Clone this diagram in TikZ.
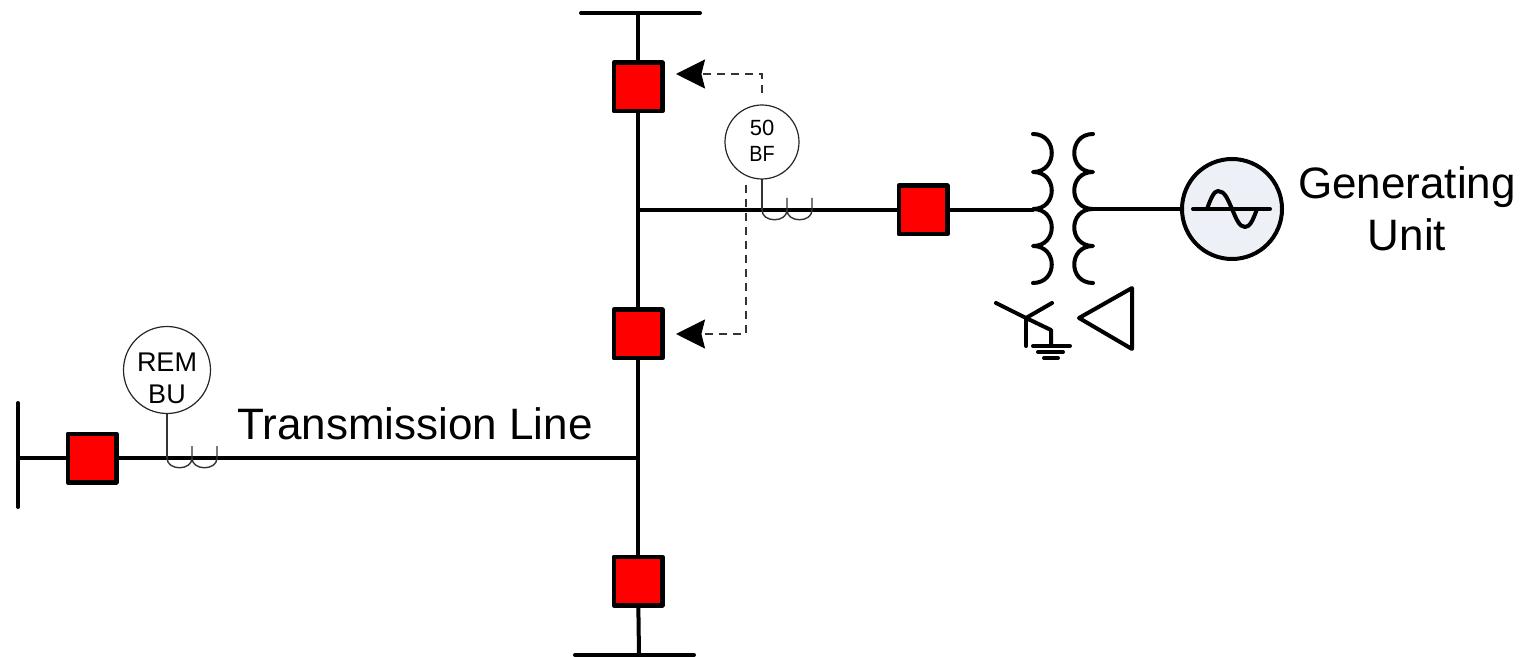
\documentclass[tikz,border=0pt]{standalone}
\usepackage{fontspec}
\setmainfont{Liberation Sans}
\usetikzlibrary{arrows.meta}
\tikzset{
  wire/.style={line width=2pt,line cap=round,line join=round,black},
  breaker/.style={draw=black,fill=red,line width=2.3pt,line join=round,minimum size=24.2pt,inner sep=0pt,outer sep=0pt},
  relay/.style={circle,draw=black!85,fill=white,line width=.6pt,inner sep=0pt,outer sep=0pt},
  thin wire/.style={line width=.7pt,black!80},
  trip/.style={line width=.7pt,black!80,dash pattern=on 4.2pt off 2.8pt,-{Stealth[length=14.5pt,width=14.5pt,inset=1.8pt,black]}},
  gen/.style={circle,draw=black,fill=genfill,line width=2pt,minimum size=50pt,inner sep=0pt,outer sep=0pt},
  biglabel/.style={font=\fontsize{22}{26}\selectfont,inner sep=0pt,align=center},
}
\definecolor{genfill}{HTML}{EDF0F6}
\begin{document}
\begin{tikzpicture}[x=0.5pt,y=-0.5pt]
\useasboundingbox (0,0) rectangle (1525,657);
% buses
\coordinate (busTopL) at (581,13); \coordinate (busTopR) at (700,13);
\coordinate (busBotL) at (575,655); \coordinate (busBotR) at (694,655);
\coordinate (busLeftT) at (18,403); \coordinate (busLeftB) at (18,507);
\coordinate (busTopM) at (638,13); \coordinate (busBotM) at (639,655);
\coordinate (busLeftM) at (18,458);
\coordinate (tapG) at (638,210); \coordinate (tapL) at (638,458);
\coordinate (ctG) at (762,210); \coordinate (ctL) at (167,458);
\coordinate (xfmrP) at (1033,210); \coordinate (xfmrS) at (1093,209);
\draw[wire] (busTopL) -- (busTopR);
\draw[wire] (busBotL) -- (busBotR);
\draw[wire] (busLeftT) -- (busLeftB);
% breakers
\node[breaker] (brkA) at (638,87) {};
\node[breaker] (brkB) at (638,334) {};
\node[breaker] (brkC) at (638,581) {};
\node[breaker] (brkG) at (923,210) {};
\node[breaker] (brkL) at (92,458) {};
% main wires
\draw[wire] (busTopM) -- (brkA);
\draw[wire] (brkA) -- (tapG);
\draw[wire] (tapG) -- (brkB);
\draw[wire] (brkB) -- (tapL);
\draw[wire] (tapL) -- (brkC);
\draw[wire] (brkC) -- (busBotM);
\draw[wire] (tapG) -- (brkG);
\draw[wire] (brkG) -- (xfmrP);
\draw[wire] (busLeftM) -- (brkL);
\draw[wire] (brkL) -- (tapL);
% relays
\node[relay,minimum size=37pt] (bf) at (762,142) {};
\node[inner sep=0pt,align=center,font=\fontsize{11}{13}\selectfont] (bfText) at (762,141) {50\\[0pt]\scalebox{.9}[1]{BF}};
\node[relay,minimum size=43.5pt] (rem) at (167,370) {};
\node[inner sep=0pt,align=center,font=\fontsize{13.5}{16}\selectfont] (remText) at (167,378) {REM\\BU};
% current transformers
\draw[thin wire] (bf) -- (ctG);
\draw[thin wire,shift={(ctG)}] (0,0) .. controls (0,13) and (25,13) .. (25,0) -- (25,-12)
  (25,0) .. controls (25,13) and (50,13) .. (50,0) -- (50,-12);
\draw[thin wire] (rem) -- (ctL);
\draw[thin wire,shift={(ctL)}] (0,0) .. controls (0,13) and (25,13) .. (25,0) -- (25,-12)
  (25,0) .. controls (25,13) and (50,13) .. (50,0) -- (50,-12);
% trip paths
\coordinate (tripAs) at (762,93); \coordinate (tripAc) at (762,74); \coordinate (tripAe) at (676,74);
\coordinate (tripBs) at (746,185); \coordinate (tripBc) at (746,334); \coordinate (tripBe) at (676,334);
\draw[trip] (tripAs) -- (tripAc) -- (tripAe);
\draw[trip] (tripBs) -- (tripBc) -- (tripBe);
% transformer windings
\draw[wire] (1033,134) .. controls (1058,134) and (1058,172) .. (1033,172)
  .. controls (1058,172) and (1058,209) .. (1033,209)
  .. controls (1058,209) and (1058,246) .. (1033,246)
  .. controls (1058,246) and (1058,283) .. (1033,283);
\draw[wire] (1093,134) .. controls (1068,134) and (1068,172) .. (1093,172)
  .. controls (1068,172) and (1068,209) .. (1093,209)
  .. controls (1068,209) and (1068,246) .. (1093,246)
  .. controls (1068,246) and (1068,283) .. (1093,283);
% generator
\node[gen] (genU) at (1232,209) {};
\draw[wire] (xfmrS) -- (genU);
\draw[wire] (1193,209) -- (1270,209);
\draw[wire] (1207,209) .. controls (1211,198) and (1214,191) .. (1218,191)
  .. controls (1225,191) and (1228,200) .. (1232,209)
  .. controls (1236,218) and (1239,227) .. (1245,227)
  .. controls (1250,227) and (1253,220) .. (1257,209);
% wye with ground
\draw[wire] (996,303) -- (1026,318) -- (1051,330) -- (1051,346);
\draw[wire] (1026,318) -- (1052,303);
\draw[wire] (1026,318) -- (1026,346);
\draw[wire] (1033,346) -- (1070,346);
\draw[wire] (1038,352) -- (1063,352);
\draw[wire] (1044,358) -- (1058,358);
% delta
\draw[wire] (1079,318) -- (1132,288) -- (1132,349) -- cycle;
% labels
\node[biglabel] (genLabel) at (1407,209) {Generating\\Unit};
\node[biglabel] (lineLabel) at (415,424) {Transmission Line};
\end{tikzpicture}
\end{document}
